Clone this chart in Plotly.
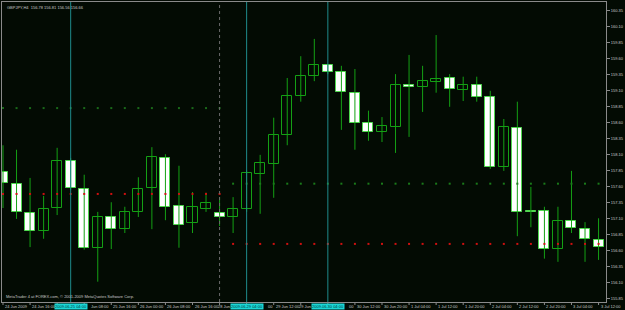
import plotly.graph_objects as go

# ---------------- data ----------------
bars = list(range(45))
opens = [157.83, 157.65, 157.19, 156.91, 157.27, 158.00, 157.57, 156.65, 157.13, 156.94,
         157.21, 157.58, 158.05, 157.30, 157.04, 157.26, 157.19, 157.13, 157.26, 157.80,
         157.96, 158.41, 159.02, 159.33, 159.50, 159.39, 159.07, 158.60, 158.46, 158.54,
         159.19, 159.16, 159.24, 159.30, 159.11, 159.19, 159.00, 157.91, 158.52, 157.22,
         157.22, 156.63, 157.07, 156.94, 156.77]
highs = [158.25, 158.18, 157.74, 157.46, 158.21, 158.05, 157.79, 157.21, 157.36, 157.29,
         157.75, 158.22, 158.11, 157.93, 157.52, 157.51, 157.44, 157.44, 157.86, 158.10,
         158.68, 159.30, 159.64, 159.91, 159.52, 159.49, 159.44, 158.79, 158.69, 159.36,
         159.66, 159.49, 159.97, 159.36, 159.32, 159.32, 159.10, 158.66, 158.93, 157.60,
         157.29, 157.29, 157.85, 157.05, 157.11]
lows = [157.27, 157.10, 156.66, 156.79, 157.16, 157.55, 156.62, 156.12, 156.63, 156.88,
        157.13, 156.94, 157.08, 156.65, 156.88, 157.21, 156.99, 156.88, 157.21, 157.18,
        157.43, 158.25, 158.93, 159.25, 159.36, 158.49, 158.18, 158.32, 158.30, 158.13,
        158.38, 158.77, 159.07, 158.85, 158.94, 158.93, 157.88, 157.85, 156.83, 156.97,
        156.48, 156.43, 156.88, 156.43, 156.46]
closes = [157.66, 157.21, 156.91, 157.26, 158.00, 157.58, 156.65, 157.13, 156.94, 157.21,
          157.57, 158.07, 157.29, 157.01, 157.29, 157.35, 157.13, 157.26, 157.82, 157.97,
          158.41, 159.02, 159.33, 159.50, 159.39, 159.08, 158.60, 158.46, 158.55, 159.19,
          159.16, 159.25, 159.28, 159.13, 159.19, 159.00, 157.91, 158.54, 157.21, 157.21,
          156.63, 157.07, 156.96, 156.79, 156.66]

# indicator levels (dotted, one dot per bar)
level_week1_red = 157.49
level_week1_green = 158.83
level_week2_green = 157.65
level_week2_red = 156.71
week1_bars = list(range(0, 17))
week2_bars = list(range(17, 45))

# time-axis labels as they are visible (some partly hidden behind the cyan line labels)
label_bars = [0, 2, 6, 8, 10, 12, 14, 16, 18, 20, 22, 24, 26, 28, 30, 32, 34, 36, 38, 40, 42, 44]
time_labels = ["24 Jun 2009", "24 Jun 16:00", "Jun 08:00", "25 Jun 16:00",
               "26 Jun 00:00", "26 Jun 08:00", "26 Jun 16:00", "28 Jun", "00",
               "29 Jun 12:00", "29 Jun", "00", "30 Jun 12:00", "30 Jun 20:00",
               "1 Jul 04:00", "1 Jul 12:00", "1 Jul 20:00", "2 Jul 04:00", "2 Jul 12:00",
               "2 Jul 20:00", "3 Jul 04:00", "3 Jul 12:00"]
label_shift = [1, 1, 6, 1, 1, 1, 1, -3, 20, 1, -3, 20, 1, 1, 1, 1, 1, 1, 1, 1, 1, 1]
tick_bars = list(range(0, 45, 2))
vline_bars = [5, 18, 24]
vline_labels = ["2009.06.25 04:00", "2009.06.29 04:00", "2009.06.30 04:00"]
separator_bar = 16

price_ticks = [155.85, 156.10, 156.35, 156.60, 156.85, 157.10, 157.35, 157.60, 157.85,
               158.10, 158.35, 158.60, 158.85, 159.10, 159.35, 159.60, 159.85, 160.10, 160.35]

header_text = "GBPJPY,H4  156.78 156.81 156.56 156.66"
footer_text = "MetaTrader 4 at FOREX.com, \u00a9 2001-2009 MetaQuotes Software Corp."

# ---------------- style ----------------
BG = "#030b03"
GREEN = "#14a014"
WHITE_EDGE = "#4fd84f"
AXIS = "#8a8a8a"
TEXT = "#c8c8c8"
TEAL = "#1f8c8c"
CYAN = "#1ad6d6"
FONT = "Liberation Sans"
FS = 4

fig = go.Figure()

# wicks
wx, wy = [], []
for i, h, l in zip(bars, highs, lows):
    wx += [i, i, None]
    wy += [l, h, None]
fig.add_trace(go.Scatter(x=wx, y=wy, mode="lines", line=dict(color=GREEN, width=1),
                         hoverinfo="skip", showlegend=False))

# bodies
up_x = [i for i in bars if closes[i] >= opens[i]]
dn_x = [i for i in bars if closes[i] < opens[i]]
fig.add_trace(go.Bar(x=up_x, base=[opens[i] for i in up_x],
                     y=[max(closes[i] - opens[i], 0.005) for i in up_x],
                     width=0.74, marker=dict(color=BG, line=dict(color=GREEN, width=1)),
                     showlegend=False))
fig.add_trace(go.Bar(x=dn_x, base=[closes[i] for i in dn_x],
                     y=[max(opens[i] - closes[i], 0.005) for i in dn_x],
                     width=0.74, marker=dict(color="#ffffff", line=dict(color=WHITE_EDGE, width=1)),
                     showlegend=False))

# dotted indicator levels
def dots(xs, level, color):
    fig.add_trace(go.Scatter(x=xs, y=[level] * len(xs), mode="markers",
                             marker=dict(symbol="square", size=2, color=color, line=dict(width=0)),
                             showlegend=False, hoverinfo="skip"))

dots(week1_bars, level_week1_red, "#d01010")
dots(week1_bars, level_week1_green, "#1a6a1a")
dots(week2_bars, level_week2_green, "#1a7a1a")
dots(week2_bars, level_week2_red, "#d01010")

shapes = []
for b in vline_bars:
    shapes.append(dict(type="line", xref="x", yref="paper", x0=b, x1=b, y0=0, y1=1,
                       line=dict(color=TEAL, width=1)))
shapes.append(dict(type="line", xref="x", yref="paper", x0=separator_bar, x1=separator_bar,
                   y0=0, y1=1, line=dict(color="#6a6a6a", width=1, dash="dot")))
for b in tick_bars:
    shapes.append(dict(type="line", xref="x", yref="paper", x0=b, x1=b, y0=0, y1=-0.01,
                       line=dict(color=AXIS, width=1)))

annotations = []
for b, t, s in zip(label_bars, time_labels, label_shift):
    annotations.append(dict(x=b, y=0, xref="x", yref="paper", text=t, showarrow=False,
                            xanchor="left", yanchor="top", xshift=s, yshift=-1, borderpad=0,
                            font=dict(family=FONT, size=FS, color=TEXT)))
for b, t in zip(vline_bars, vline_labels):
    annotations.append(dict(x=b, y=0, xref="x", yref="paper", text=t, showarrow=False,
                            xanchor="center", yanchor="top", yshift=-1, bgcolor=CYAN,
                            borderpad=0, font=dict(family=FONT, size=FS, color="#003a3a")))
annotations.append(dict(x=0, y=1, xref="paper", yref="paper", text=header_text, showarrow=False,
                        xanchor="left", yanchor="top", xshift=3, yshift=-1,
                        font=dict(family=FONT, size=FS, color=TEXT)))
annotations.append(dict(x=0, y=0, xref="paper", yref="paper", text=footer_text, showarrow=False,
                        xanchor="left", yanchor="bottom", xshift=2, yshift=1,
                        font=dict(family=FONT, size=FS, color=TEXT)))

fig.update_layout(
    width=625, height=310,
    margin=dict(l=1, r=18, t=1, b=8),
    paper_bgcolor=BG, plot_bgcolor=BG,
    barmode="overlay", bargap=0,
    showlegend=False,
    shapes=shapes, annotations=annotations,
    xaxis=dict(range=[-0.074, 44.55], showgrid=False, zeroline=False, showticklabels=False,
               ticks="", showline=True, linecolor=AXIS, linewidth=1, mirror=True, fixedrange=True),
    yaxis=dict(range=[155.803, 160.486], side="right", showgrid=False, zeroline=False,
               tickvals=price_ticks, ticktext=["%.2f" % p for p in price_ticks],
               ticks="outside", ticklen=3, tickcolor=AXIS, showline=True, linecolor=AXIS,
               linewidth=1, mirror=True,
               tickfont=dict(family=FONT, size=FS, color=TEXT), fixedrange=True),
)

fig.write_html("out.html")
